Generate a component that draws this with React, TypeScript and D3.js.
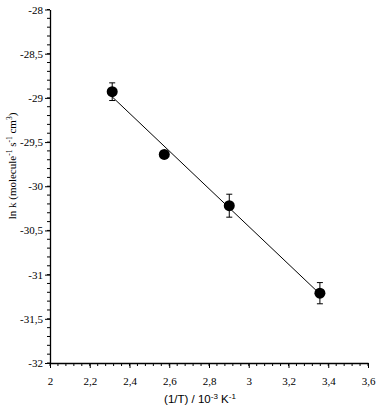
import { useEffect, useRef } from "react";
import * as d3 from "d3";

const W = 378;
const H = 407;
const MARGIN = { top: 9.5, right: 10, bottom: 44, left: 50 };

// data
const invT = [2.313, 2.575, 2.902, 3.358];
const lnK = [-28.93, -29.64, -30.22, -31.21];
const lnKErr = [0.1, 0.0, 0.13, 0.12];

const xTicks = [2, 2.2, 2.4, 2.6, 2.8, 3, 3.2, 3.4, 3.6];
const yTicks = [-28, -28.5, -29, -29.5, -30, -30.5, -31, -31.5, -32];

const SERIF = '"Liberation Serif", "Times New Roman", "DejaVu Serif", serif';
const SANS = '"Liberation Sans", Arial, sans-serif';

const fmt = (v: number) => String(v).replace(".", ",");

export default function App() {
  const svgRef = useRef<SVGSVGElement>(null);

  useEffect(() => {
    const svg = d3.select(svgRef.current);
    svg.selectAll("*").remove();

    const plotW = W - MARGIN.left - MARGIN.right;
    const plotH = H - MARGIN.top - MARGIN.bottom;

    const x = d3.scaleLinear().domain([2, 3.6]).range([0, plotW]);
    const y = d3.scaleLinear().domain([-32, -28]).range([plotH, 0]);

    const g = svg
      .append("g")
      .attr("transform", `translate(${MARGIN.left},${MARGIN.top})`);

    // minor ticks
    const xMinor = d3.range(0, 41).map((i) => 2 + i * 0.04);
    const yMinor = d3.range(0, 41).map((i) => -32 + i * 0.1);

    g.selectAll(".xminor")
      .data(xMinor)
      .join("line")
      .attr("x1", (d) => x(d))
      .attr("x2", (d) => x(d))
      .attr("y1", plotH)
      .attr("y2", plotH + 3)
      .attr("stroke", "#000")
      .attr("stroke-width", 1);

    g.selectAll(".yminor")
      .data(yMinor)
      .join("line")
      .attr("x1", -3)
      .attr("x2", 0)
      .attr("y1", (d) => y(d))
      .attr("y2", (d) => y(d))
      .attr("stroke", "#000")
      .attr("stroke-width", 1);

    // x axis
    const xAxis = g
      .append("g")
      .attr("transform", `translate(0,${plotH})`)
      .call(
        d3
          .axisBottom(x)
          .tickValues(xTicks)
          .tickSize(5)
          .tickSizeOuter(0)
          .tickPadding(9)
          .tickFormat((v) => fmt(v as number))
      );
    xAxis.attr("font-family", null);
    xAxis.select(".domain").attr("stroke", "#000").attr("stroke-width", 1.3);
    xAxis
      .selectAll(".tick text")
      .style("font-family", SERIF)
      .style("font-size", "11px")
      .attr("fill", "#000");

    // y axis
    const yAxis = g.append("g").call(
      d3
        .axisLeft(y)
        .tickValues(yTicks)
        .tickSize(5)
        .tickSizeOuter(0)
        .tickPadding(2)
        .tickFormat((v) => fmt(v as number))
    );
    yAxis.attr("font-family", null);
    yAxis.select(".domain").attr("stroke", "#000").attr("stroke-width", 1.3);
    yAxis
      .selectAll(".tick text")
      .style("font-family", SERIF)
      .style("font-size", "11px")
      .attr("fill", "#000");

    // regression line
    const mx = d3.mean(invT)!;
    const my = d3.mean(lnK)!;
    const sxy = d3.sum(invT, (v, i) => (v - mx) * (lnK[i] - my));
    const sxx = d3.sum(invT, (v) => (v - mx) ** 2);
    const slope = sxy / sxx;
    const icpt = my - slope * mx;
    const [x0, x1] = d3.extent(invT) as [number, number];
    g.append("line")
      .attr("x1", x(x0))
      .attr("x2", x(x1))
      .attr("y1", y(icpt + slope * x0))
      .attr("y2", y(icpt + slope * x1))
      .attr("stroke", "#000")
      .attr("stroke-width", 1);

    // error bars
    invT.forEach((xv, i) => {
      const e = lnKErr[i];
      if (!e) return;
      const cx = x(xv);
      const yt = y(lnK[i] + e);
      const yb = y(lnK[i] - e);
      g.append("line")
        .attr("x1", cx).attr("x2", cx)
        .attr("y1", yt).attr("y2", yb)
        .attr("stroke", "#000").attr("stroke-width", 1);
      [yt, yb].forEach((yy) => {
        g.append("line")
          .attr("x1", cx - 3).attr("x2", cx + 3)
          .attr("y1", yy).attr("y2", yy)
          .attr("stroke", "#000").attr("stroke-width", 1);
      });
    });

    // points
    g.selectAll(".pt")
      .data(invT)
      .join("circle")
      .attr("cx", (d) => x(d))
      .attr("cy", (_, i) => y(lnK[i]))
      .attr("r", 5.5)
      .attr("fill", "#000");

    // x title
    const xt = svg
      .append("text")
      .attr("x", 200)
      .attr("y", 403)
      .attr("text-anchor", "middle")
      .style("font-family", SANS)
      .style("font-size", "11.5px")
      .attr("fill", "#000");
    xt.append("tspan").text("(1/T) / 10");
    xt.append("tspan").attr("dy", -4).style("font-size", "8px").text("-3");
    xt.append("tspan").attr("dy", 4).text(" K");
    xt.append("tspan").attr("dy", -4).style("font-size", "8px").text("-1");

    // y title
    const yt = svg
      .append("text")
      .attr("transform", "translate(16,166) rotate(-90)")
      .attr("text-anchor", "middle")
      .style("font-family", SERIF)
      .style("font-size", "11px")
      .attr("fill", "#000");
    yt.append("tspan").text("ln k (molecule");
    yt.append("tspan").attr("dy", -4).style("font-size", "7.5px").text("-1");
    yt.append("tspan").attr("dy", 4).text(" s");
    yt.append("tspan").attr("dy", -4).style("font-size", "7.5px").text("-1");
    yt.append("tspan").attr("dy", 4).text(" cm");
    yt.append("tspan").attr("dy", -4).style("font-size", "7.5px").text("3");
    yt.append("tspan").attr("dy", 4).text(")");
  }, []);

  return (
    <svg
      ref={svgRef}
      width={W}
      height={H}
      style={{ position: "fixed", left: 0, top: 0, background: "#fff" }}
    />
  );
}
